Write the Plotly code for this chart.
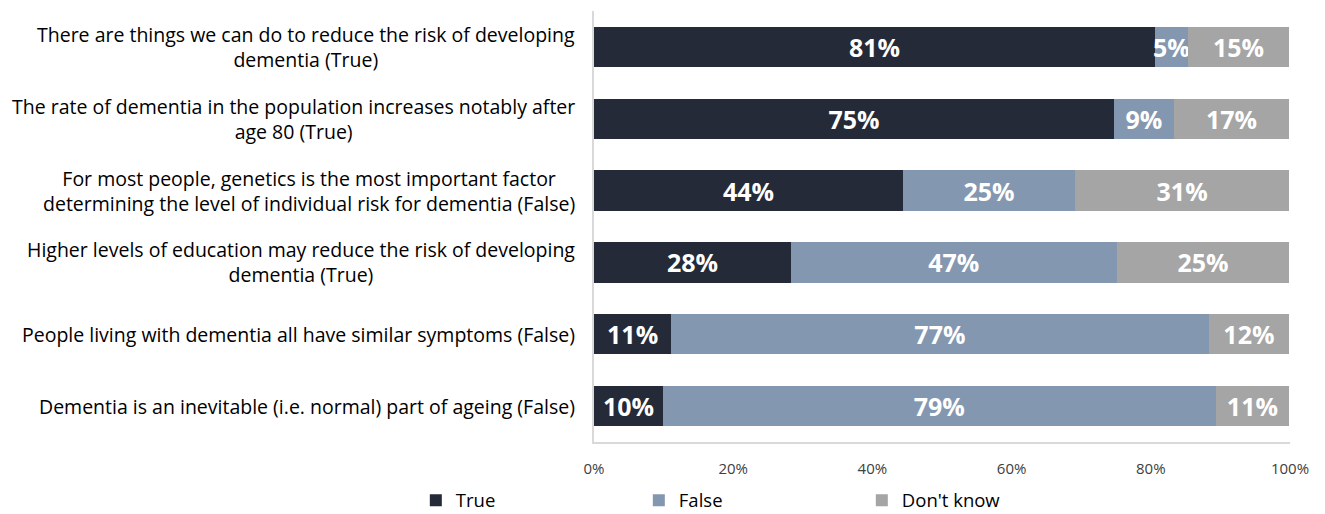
import plotly.graph_objects as go

# Statements (top to bottom) and share of answers in %
statements = [
    "There are things we can do to reduce the risk of developing<br>dementia (True)",
    "The rate of dementia in the population increases notably after<br>age 80 (True)",
    "For most people, genetics is the most important factor<br>determining the level of individual risk for dementia (False)",
    "Higher levels of education may reduce the risk of developing<br>dementia (True)",
    "People living with dementia all have similar symptoms (False)",
    "Dementia is an inevitable (i.e. normal) part of ageing (False)",
]
true_vals = [80.6, 74.7, 44.4, 28.3, 11.1, 9.9]
false_vals = [4.7, 8.6, 24.7, 46.8, 77.2, 79.4]
dontknow_vals = [14.6, 16.6, 30.8, 24.8, 11.6, 10.6]

x_ticks = [0, 20, 40, 60, 80, 100]
x_tick_labels = ["0%", "20%", "40%", "60%", "80%", "100%"]

series = [
    ("True", true_vals, "#242A37"),
    ("False", false_vals, "#8497B0"),
    ("Don't know", dontknow_vals, "#A5A5A5"),
]

FONT = "Open Sans, Noto Sans, sans-serif"

fig = go.Figure()
for name, vals, color in series:
    fig.add_trace(go.Bar(
        y=statements,
        x=vals,
        name=name,
        orientation="h",
        marker=dict(color=color, line=dict(width=0)),
        texttemplate="%{x:.0f}%",
        textposition="inside",
        insidetextanchor="middle",
        textangle=0,
        textfont=dict(family=FONT, size=25, color="white", weight="bold"),
        constraintext="none",
        cliponaxis=False,
    ))

# category labels as centred multi-line text, right-aligned against the axis
for s in statements:
    fig.add_annotation(
        x=0, xref="paper", y=s, yref="y",
        text=s, showarrow=False,
        xanchor="right", xshift=-17, align="center",
        font=dict(family=FONT, size=19.5, color="#000000"),
    )

# page body adds an 8px offset, so the figure is 8px smaller on each side
fig.update_layout(
    barmode="stack",
    bargap=0.44,
    width=1317,
    height=506,
    margin=dict(l=586, r=35, t=3, b=72, autoexpand=False),
    plot_bgcolor="white",
    paper_bgcolor="white",
    legend=dict(
        orientation="h",
        x=-0.256, xanchor="left",
        y=-0.136, yanchor="middle",
        entrywidth=178, entrywidthmode="pixels",
        font=dict(family=FONT, size=18.5, color="#000000"),
        traceorder="normal",
    ),
    xaxis=dict(
        range=[0, 100],
        tickvals=x_ticks,
        ticktext=x_tick_labels,
        showgrid=False,
        zeroline=False,
        showline=True,
        linecolor="#D9D9D9",
        linewidth=1.5,
        ticks="",
        ticklabelstandoff=12,
        tickfont=dict(family=FONT, size=15, color="#404040"),
    ),
    yaxis=dict(
        autorange="reversed",
        showticklabels=False,
        showgrid=False,
        zeroline=False,
        showline=True,
        linecolor="#D9D9D9",
        linewidth=1.5,
        ticks="",
    ),
)

fig.write_html("out.html")
